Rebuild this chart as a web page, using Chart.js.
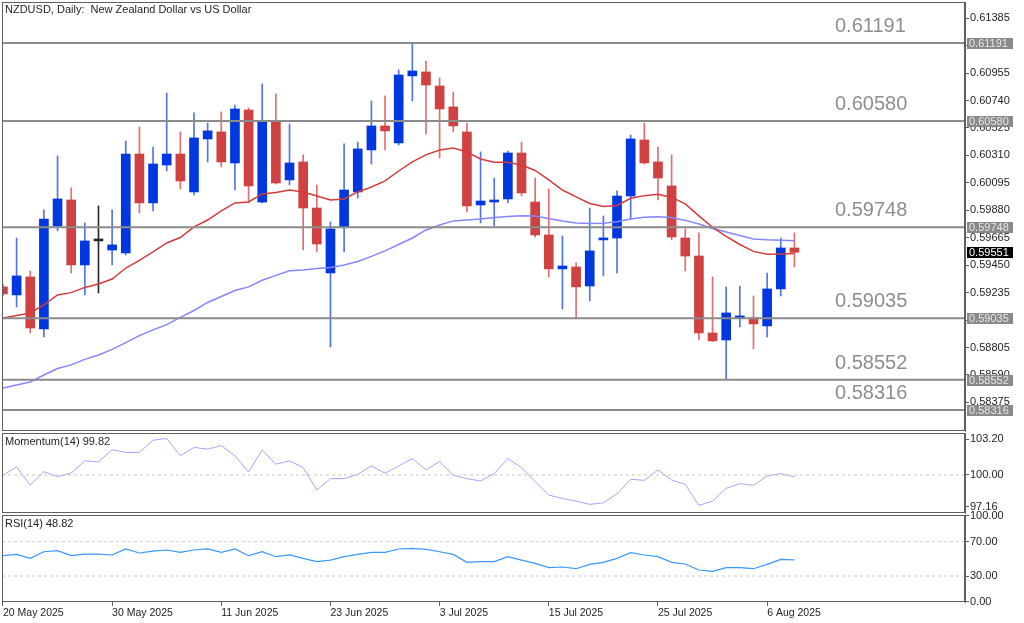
<!DOCTYPE html>
<html>
<head>
<meta charset="utf-8">
<title>NZDUSD Daily</title>
<script src="https://cdn.jsdelivr.net/npm/chart.js@4"></script>
<style>
html,body{margin:0;padding:0;background:#fff;}
body{width:1024px;height:623px;position:relative;overflow:hidden;}
canvas{position:absolute;left:0;}
#cMain{top:0;}
#cMom{top:432px;}
#cRsi{top:508px;}
</style>
</head>
<body>
<canvas id="cMain" width="1024" height="432"></canvas>
<canvas id="cMom" width="1024" height="82"></canvas>
<canvas id="cRsi" width="1024" height="115"></canvas>
<script>
// daily bars, 20 May 2025 -> 8 Aug 2025 (index 0..58)
const opens = [0.59280,0.59217,0.59358,0.58951,0.59757,0.59961,0.59452,0.59640,0.59569,0.59546,
  0.60321,0.59938,0.60235,0.60321,0.60024,0.60439,0.60494,0.60251,0.60666,0.59945,
  0.60572,0.60118,0.60259,0.59898,0.59389,0.59750,0.60024,0.60353,0.60541,0.60408,
  0.60933,0.60964,0.60854,0.60690,0.60494,0.59922,0.59945,0.59969,0.60329,0.59945,
  0.59687,0.59421,0.59436,0.59287,0.59648,0.59663,0.59992,0.60431,0.60259,0.60071,
  0.59663,0.59522,0.58919,0.58864,0.59037,0.59037,0.58974,0.59264,0.59585];
const highs = [0.59303,0.59663,0.59405,0.59883,0.60306,0.60055,0.59781,0.59914,0.59883,0.60423,
  0.60533,0.60376,0.60799,0.60494,0.60643,0.60564,0.60651,0.60705,0.60682,0.60870,
  0.60792,0.60556,0.60314,0.60079,0.59789,0.60400,0.60415,0.60737,0.60776,0.60980,
  0.61183,0.61050,0.60917,0.60807,0.60564,0.60337,0.60133,0.60345,0.60415,0.60133,
  0.60047,0.59679,0.59468,0.59898,0.59836,0.60032,0.60470,0.60564,0.60376,0.60314,
  0.59734,0.59703,0.59358,0.59280,0.59287,0.59209,0.59389,0.59663,0.59703];
const lows = [0.59209,0.59123,0.58919,0.58888,0.59718,0.59389,0.59217,0.59233,0.59452,0.59530,
  0.59859,0.59875,0.60188,0.60047,0.60000,0.60259,0.60220,0.60039,0.59938,0.59938,
  0.60086,0.60079,0.59569,0.59554,0.58810,0.59554,0.59977,0.60243,0.60353,0.60392,
  0.60737,0.60478,0.60290,0.60494,0.59867,0.59781,0.59750,0.59938,0.59992,0.59671,
  0.59358,0.59107,0.59029,0.59170,0.59366,0.59389,0.59812,0.60243,0.59961,0.59648,
  0.59405,0.58864,0.58852,0.58552,0.58966,0.58794,0.58888,0.59209,0.59436];
const closes = [0.59225,0.59366,0.58958,0.59812,0.59969,0.59452,0.59640,0.59640,0.59609,0.60321,
  0.59938,0.60243,0.60321,0.60110,0.60447,0.60502,0.60259,0.60674,0.60071,0.60572,
  0.60094,0.60251,0.59898,0.59616,0.59734,0.60039,0.60361,0.60541,0.60502,0.60940,
  0.60972,0.60862,0.60674,0.60541,0.59914,0.59953,0.59956,0.60329,0.60016,0.59687,
  0.59421,0.59444,0.59280,0.59562,0.59656,0.59992,0.60439,0.60251,0.60133,0.59671,
  0.59522,0.58919,0.58857,0.59076,0.59045,0.58990,0.59264,0.59585,0.59551];

const maFast = [0.59037,0.59056,0.59076,0.59139,0.59217,0.59235,0.59276,0.59303,0.59342,0.59428,
  0.59487,0.59554,0.59624,0.59667,0.59750,0.59804,0.59875,0.59938,0.59945,0.60008,
  0.60020,0.60039,0.60024,0.59992,0.59961,0.59969,0.60024,0.60063,0.60110,0.60188,
  0.60259,0.60314,0.60353,0.60368,0.60337,0.60282,0.60256,0.60256,0.60235,0.60192,
  0.60118,0.60039,0.59985,0.59934,0.59910,0.59918,0.59974,0.59995,0.60006,0.59981,
  0.59930,0.59836,0.59746,0.59675,0.59612,0.59558,0.59536,0.59538,0.59542];
const maSlow = [0.58488,0.58512,0.58535,0.58590,0.58641,0.58669,0.58712,0.58747,0.58790,0.58843,
  0.58898,0.58943,0.58984,0.59041,0.59095,0.59158,0.59205,0.59252,0.59280,0.59332,
  0.59370,0.59407,0.59413,0.59424,0.59432,0.59452,0.59479,0.59519,0.59562,0.59612,
  0.59663,0.59726,0.59765,0.59797,0.59804,0.59812,0.59824,0.59832,0.59837,0.59836,
  0.59816,0.59797,0.59781,0.59777,0.59779,0.59791,0.59812,0.59826,0.59830,0.59824,
  0.59801,0.59773,0.59738,0.59710,0.59683,0.59656,0.59649,0.59646,0.59642];

const momentum = [99.97,100.72,99.10,100.30,99.85,100.18,101.26,101.17,102.25,102.01,
  102.01,103.11,103.26,101.71,102.46,102.31,102.63,101.71,100.27,102.25,
  100.96,101.26,100.66,98.65,99.67,99.67,100.06,100.81,100.15,100.81,
  101.47,100.45,101.20,99.97,99.67,99.46,100.12,101.47,100.66,99.40,
  98.20,97.90,97.66,97.37,97.51,98.32,99.61,99.52,100.45,99.55,
  99.16,97.28,97.66,98.80,99.22,99.07,99.91,100.12,99.82];
const rsi = [53.7,55.2,50.6,58.3,59.5,53.7,55.6,55.6,54.5,61.5,
  56.8,59.1,60.3,57.6,60.3,61.5,57.6,61.5,53.7,58.3,
  52.5,54.5,50.6,46.7,48.6,52.5,55.2,57.6,57.6,61.5,
  62.2,61.1,58.3,55.2,45.9,46.7,46.7,52.5,48.6,44.7,
  39.7,40.5,38.5,43.6,45.9,50.6,57.2,54.5,52.5,45.9,
  44.0,37.0,35.4,39.7,39.7,38.5,43.6,49.4,48.82];

const levels = [0.61191, 0.60580, 0.59748, 0.59035, 0.58552, 0.58316];
const lastPrice = 0.59551;
const priceTicks = [0.61385,0.61170,0.60955,0.60740,0.60525,0.60310,0.60095,0.59880,
  0.59665,0.59450,0.59235,0.59020,0.58805,0.58590,0.58375];
const momTicks = [103.20, 100.00, 97.16];
const momLevel = 100;
const rsiTicks = [100, 70, 30, 0];
const rsiLevels = [70, 30];
const dateTicks = [0, 8, 16, 24, 32, 40, 48, 56];
const dateLabels = ['20 May 2025','30 May 2025','11 Jun 2025','23 Jun 2025','3 Jul 2025','15 Jul 2025','25 Jul 2025','6 Aug 2025'];

Chart.defaults.font.family = '"Liberation Sans", Arial, sans-serif';
Chart.defaults.font.size = 11;
Chart.defaults.color = '#1e1e1e';
Chart.defaults.animation = false;
Chart.defaults.plugins.legend.display = false;
Chart.defaults.plugins.tooltip.enabled = false;

const X_MIN = -0.07, X_MAX = 70.5;
const AXIS_W = 59;
const FRAME = '#5f5f5f';
const BULL = '#0037e0', BEAR = '#d04242', DOJI = '#2a2a2a';
const BULL_W = '#4f74ec', BEAR_W = '#e07070';

const idx = closes.map((_, i) => i);
const pts = arr => arr.map((v, i) => ({x: i, y: v}));
const flat = v => [{x: X_MIN, y: v}, {x: X_MAX, y: v}];

function noPad(s) { s.paddingTop = 0; s.paddingBottom = 0; s.paddingLeft = 0; s.paddingRight = 0; }

function xScale(display) {
  return {
    type: 'linear', min: X_MIN, max: X_MAX, offset: false, display,
    grid: {drawOnChartArea: false, drawTicks: true, tickLength: 4, color: FRAME},
    border: {display: false},
    afterBuildTicks: s => { s.ticks = dateTicks.map(v => ({value: v})); },
    afterFit: s => { s.height = display ? 21 : 0; noPad(s); },
    ticks: {autoSkip: false, maxRotation: 0, align: 'start', padding: 1, font: {size: 10.5},
      callback: v => dateLabels[dateTicks.indexOf(v)]}
  };
}
function yScale(min, max, ticks, dec) {
  return {
    type: 'linear', position: 'right', min, max,
    grid: {drawOnChartArea: false, drawTicks: true, tickLength: 4, color: FRAME},
    border: {display: true, color: FRAME},
    afterBuildTicks: s => { s.ticks = ticks.map(v => ({value: v})); },
    afterFit: s => { s.width = AXIS_W; noPad(s); },
    ticks: {autoSkip: false, padding: 1, callback: v => v.toFixed(dec)}
  };
}

// frame + panel caption
function panelDeco(caption, dy) {
  return {
    id: 'deco',
    afterDatasetsDraw(chart) {
      const {ctx, chartArea: a} = chart;
      ctx.save();
      ctx.strokeStyle = FRAME; ctx.lineWidth = 1;
      ctx.strokeRect(a.left + 0.5, a.top + 0.5, a.width - 1, a.height - 1);
      ctx.fillStyle = '#1e1e1e';
      ctx.font = '11px "Liberation Sans", Arial, sans-serif';
      ctx.textBaseline = 'middle';
      ctx.fillText(caption, a.left + 3, a.top + dy);
      ctx.restore();
    }
  };
}

const mainDeco = {
  id: 'mainDeco',
  afterDatasetsDraw(chart) {
    const {ctx, scales: {y}} = chart;
    ctx.save();
    ctx.font = '20px "Liberation Sans", Arial, sans-serif';
    ctx.fillStyle = '#8e8e8e';
    ctx.textBaseline = 'alphabetic';
    levels.forEach(l => ctx.fillText(l.toFixed(5), 835, y.getPixelForValue(l) - 11));
    ctx.restore();
  },
  afterDraw(chart) {
    const {ctx, chartArea: a, scales: {y}} = chart;
    ctx.save();
    ctx.font = '11px "Liberation Sans", Arial, sans-serif';
    ctx.textBaseline = 'middle';
    const box = (v, bg, fg) => {
      const py = Math.round(y.getPixelForValue(v));
      ctx.fillStyle = bg; ctx.fillRect(a.right + 2, py - 5, 46, 11);
      ctx.fillStyle = fg; ctx.fillText(v.toFixed(5), a.right + 4, py + 0.5);
    };
    levels.forEach(l => box(l, '#8a8a8a', '#e6e6e6'));
    box(lastPrice, '#000', '#fff');
    ctx.restore();
  }
};

const bodyColor = idx.map(i => closes[i] > opens[i] ? BULL : closes[i] < opens[i] ? BEAR : DOJI);
const wickColor = idx.map(i => closes[i] > opens[i] ? BULL_W : closes[i] < opens[i] ? BEAR_W : DOJI);

new Chart(document.getElementById('cMain'), {
  type: 'bar',
  data: {
    datasets: [
      ...levels.map(l => ({type: 'line', data: flat(l), borderColor: '#8b8b8b', borderWidth: 2, pointRadius: 0, order: 1})),
      {type: 'line', data: pts(maFast), borderColor: '#d43c3c', borderWidth: 1.5, pointRadius: 0, order: 2},
      {type: 'line', data: pts(maSlow), borderColor: '#8686ff', borderWidth: 1.5, pointRadius: 0, order: 2},
      {type: 'bar', data: idx.map(i => ({x: i, y: [opens[i], closes[i]]})), backgroundColor: bodyColor,
        barThickness: 9, minBarLength: 2, grouped: false, order: 3},
      {type: 'bar', data: idx.map(i => ({x: i, y: [lows[i], highs[i]]})), backgroundColor: wickColor,
        barThickness: 1, grouped: false, order: 4}
    ]
  },
  options: {
    responsive: false, devicePixelRatio: 1,
    layout: {padding: {left: 2, right: 0, top: 2, bottom: 1}},
    scales: {x: xScale(false), y: yScale(0.58151, 0.61512, priceTicks, 5)}
  },
  plugins: [panelDeco('NZDUSD, Daily:  New Zealand Dollar vs US Dollar', 8), mainDeco]
});

new Chart(document.getElementById('cMom'), {
  type: 'line',
  data: {
    datasets: [
      {data: flat(momLevel), borderColor: '#c8c8c8', borderWidth: 1, borderDash: [3, 3], pointRadius: 0},
      {data: pts(momentum), borderColor: '#a4a4ff', borderWidth: 1, pointRadius: 0}
    ]
  },
  options: {
    responsive: false, devicePixelRatio: 1,
    layout: {padding: {left: 2, right: 0, top: 1, bottom: 1}},
    scales: {x: xScale(false), y: yScale(96.6, 103.75, momTicks, 2)}
  },
  plugins: [panelDeco('Momentum(14) ' + momentum[momentum.length - 1].toFixed(2), 9)]
});

new Chart(document.getElementById('cRsi'), {
  type: 'line',
  data: {
    datasets: [
      ...rsiLevels.map(l => ({data: flat(l), borderColor: '#c8c8c8', borderWidth: 1, borderDash: [3, 3], pointRadius: 0})),
      {data: pts(rsi), borderColor: '#3a98ff', borderWidth: 1.2, pointRadius: 0}
    ]
  },
  options: {
    responsive: false, devicePixelRatio: 1,
    layout: {padding: {left: 2, right: 0, top: 7, bottom: 0}},
    scales: {x: xScale(true), y: yScale(-0.3, 101.1, rsiTicks, 2)}
  },
  plugins: [panelDeco('RSI(14) ' + rsi[rsi.length - 1].toFixed(2), 9)]
});
</script>
</body>
</html>
